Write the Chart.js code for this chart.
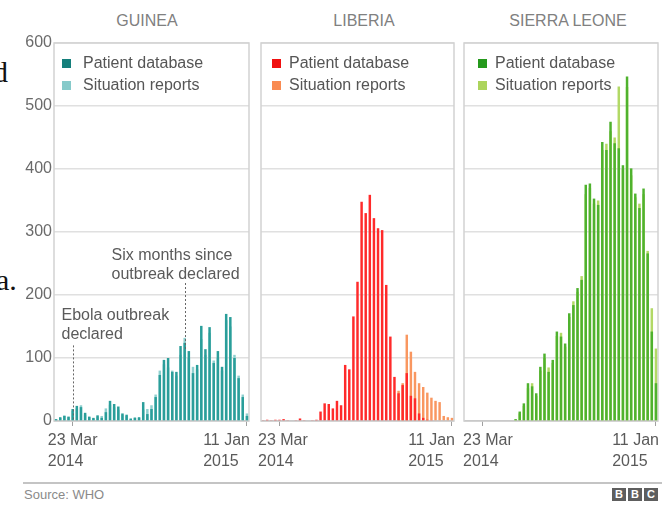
<!DOCTYPE html>
<html>
<head>
<meta charset="utf-8">
<script src="https://cdn.jsdelivr.net/npm/chart.js@4.4.1/dist/chart.umd.min.js"></script>
<style>
html,body{margin:0;padding:0;background:#fff;}
#wrap{position:relative;width:670px;height:505px;overflow:hidden;font-family:"Liberation Sans",Arial,sans-serif;}
canvas{position:absolute;top:0;}
.t{position:absolute;white-space:nowrap;}
.title{font-size:16px;line-height:20px;color:#808080;top:11px;transform:translateX(-50%);}
.serif{font-family:"Liberation Serif","DejaVu Serif",serif;font-size:30px;line-height:30px;color:#111;}
.lg{font-size:16px;line-height:18px;color:#555;}
.sq{position:absolute;width:9px;height:9px;}
.logo{position:absolute;top:488px;width:14px;height:13px;background:#5e5e5e;color:#fff;font:bold 11px "Liberation Sans",Arial,sans-serif;line-height:13px;text-align:center;}
</style>
</head>
<body>
<div id="wrap">
  <div class="t serif" style="left:-7px;top:57px">d</div>
  <div class="t serif" style="left:-4px;top:265px">a.</div>

  <div class="t title" style="left:147px">GUINEA</div>
  <div class="t title" style="left:364px">LIBERIA</div>
  <div class="t title" style="left:568px">SIERRA LEONE</div>

  <canvas id="cG" width="252" height="480" style="left:0px"></canvas>
  <canvas id="cL" width="205" height="480" style="left:252px"></canvas>
  <canvas id="cS" width="205" height="480" style="left:457px"></canvas>

  <div id="legends"></div>

  <div style="position:absolute;left:23px;top:482px;width:639px;height:2px;background:#c4c4c4"></div>
  <div class="t" style="left:24px;top:487px;font-size:13px;line-height:15px;color:#8a8a8a">Source: WHO</div>
  <div class="logo" style="left:612px">B</div>
  <div class="logo" style="left:628px">B</div>
  <div class="logo" style="left:644px">C</div>
</div>
<script>
// ---- categories: week starting dates ----
const weekLabels = [
  "2014-02-23","2014-03-02","2014-03-09","2014-03-16","2014-03-23","2014-03-30","2014-04-06","2014-04-13",
  "2014-04-20","2014-04-27","2014-05-04","2014-05-11","2014-05-18","2014-05-25","2014-06-01","2014-06-08",
  "2014-06-15","2014-06-22","2014-06-29","2014-07-06","2014-07-13","2014-07-20","2014-07-27","2014-08-03",
  "2014-08-10","2014-08-17","2014-08-24","2014-08-31","2014-09-07","2014-09-14","2014-09-21","2014-09-28",
  "2014-10-05","2014-10-12","2014-10-19","2014-10-26","2014-11-02","2014-11-09","2014-11-16","2014-11-23",
  "2014-11-30","2014-12-07","2014-12-14","2014-12-21","2014-12-28","2015-01-04","2015-01-11"
];
const xTickWeeks = ["2014-03-23", "2015-01-11"];
const xTickLabels = [["23 Mar", "2014"], ["11 Jan", "2015"]];
const yTickValues = [0, 100, 200, 300, 400, 500, 600];
const seriesNames = ["Patient database", "Situation reports"];

// ---- series values (weekly cases) ----
const guineaPatient = [3,6,8,7,19,24,22,13,7,5,9,5,14,32,27,23,12,10,4,5,6,30,11,19,38,73,97,100,78,78,119,124,111,76,89,151,114,149,92,111,86,170,165,100,68,38,8];
const guineaSituation = [2,5,9,6,16,20,25,10,6,4,7,8,20,26,22,18,10,8,3,6,5,18,19,25,42,80,90,85,80,72,105,132,100,86,82,130,105,140,96,100,80,160,150,105,72,42,12];

const liberiaPatient = [1,2,1,2,2,3,1,0,1,4,1,0,1,2,15,28,27,20,32,25,89,82,166,221,348,330,359,322,306,303,216,134,70,44,57,76,40,36,12,5,2,1,0,0,0,0,0];
const liberiaSituation = [null,null,null,null,null,null,null,null,null,null,null,null,null,null,null,null,null,null,null,null,null,null,null,null,null,null,null,null,null,null,null,null,null,48,60,137,110,78,60,54,45,37,32,30,8,6,5];

const sierraPatient = [0,0,0,0,0,0,0,0,0,0,0,0,3,15,28,60,55,44,86,107,78,97,142,134,123,171,184,211,224,375,377,353,343,443,430,475,441,433,406,547,401,361,338,369,266,142,60];
const sierraSituation = [0,0,0,0,0,0,0,0,0,0,0,0,2,12,24,52,60,40,80,100,85,92,135,140,118,165,190,205,230,360,370,345,350,430,440,460,450,531,400,530,390,355,345,360,270,179,115];

// ---- annotations (Guinea) ----
const annotations = [
  {week: "2014-03-23", lines: ["Ebola outbreak", "declared"], lineFrom: 120, lineTo: 0, textDx: -12, textY: [168, 137]},
  {week: "2014-09-28", lines: ["Six months since", "outbreak declared"], lineFrom: 219, lineTo: 113, textDx: -74, textY: [263, 232]}
];

const FONT = '"Liberation Sans", Arial, sans-serif';

const framePlugin = {
  id: 'frame',
  beforeDatasetsDraw(chart) {
    const a = chart.chartArea, ctx = chart.ctx;
    ctx.save();
    ctx.strokeStyle = '#d2d2d2';
    ctx.lineWidth = 1.5;
    ctx.strokeRect(a.left, a.top, a.right - a.left, a.bottom - a.top);
    ctx.restore();
  }
};

function xLabelPlugin(minLeft) {
  return {
    id: 'xlabels',
    afterDraw(chart) {
      const xs = chart.scales.x, a = chart.chartArea, ctx = chart.ctx;
      ctx.save();
      ctx.font = '16px ' + FONT;
      ctx.fillStyle = '#5a5a5a';
      ctx.textAlign = 'left';
      ctx.textBaseline = 'middle';
      xTickWeeks.forEach((wk, k) => {
        const px = xs.getPixelForValue(weekLabels.indexOf(wk));
        const lines = xTickLabels[k];
        const w = Math.max(...lines.map(l => ctx.measureText(l).width));
        let sx = px - w / 2;
        if (sx < a.left + minLeft) sx = a.left + minLeft;
        if (sx + w > a.right + 1) sx = a.right + 1 - w;
        lines.forEach((l, j) => ctx.fillText(l, sx, a.bottom + 20 + j * 21));
      });
      ctx.restore();
    }
  };
}

const annotationPlugin = {
  id: 'annot',
  afterDatasetsDraw(chart) {
    const xs = chart.scales.x, ys = chart.scales.y, ctx = chart.ctx;
    ctx.save();
    annotations.forEach(an => {
      const px = Math.round(xs.getPixelForValue(weekLabels.indexOf(an.week))) + 0.5;
      ctx.strokeStyle = '#666';
      ctx.lineWidth = 1;
      ctx.setLineDash([2, 2]);
      ctx.beginPath();
      ctx.moveTo(px, ys.getPixelForValue(an.lineFrom));
      ctx.lineTo(px, ys.getPixelForValue(an.lineTo));
      ctx.stroke();
      ctx.setLineDash([]);
      ctx.font = '16px ' + FONT;
      ctx.fillStyle = '#5a5a5a';
      ctx.textAlign = 'left';
      ctx.textBaseline = 'middle';
      an.lines.forEach((l, j) => ctx.fillText(l, px + an.textDx, ys.getPixelForValue(an.textY[j])));
    });
    ctx.restore();
  }
};

function makePanel(id, pd, sr, colors, opt) {
  const tickIdx = xTickWeeks.map(w => weekLabels.indexOf(w));
  const plugins = [framePlugin, xLabelPlugin(opt.minLeft)];
  if (opt.annot) plugins.push(annotationPlugin);
  return new Chart(document.getElementById(id), {
    type: 'bar',
    data: {
      labels: weekLabels,
      datasets: [
        {label: seriesNames[0], data: pd, backgroundColor: colors[0], grouped: false, categoryPercentage: 1, barPercentage: 0.6, order: 0},
        {label: seriesNames[1], data: sr, backgroundColor: colors[1], grouped: false, categoryPercentage: 1, barPercentage: 0.6, order: 1}
      ]
    },
    options: {
      responsive: false,
      animation: false,
      devicePixelRatio: 1,
      layout: {padding: {left: opt.padL, right: opt.padR, top: 43, bottom: 0}},
      plugins: {legend: {display: false}, tooltip: {enabled: false}},
      scales: {
        x: {
          type: 'category',
          offset: true,
          grid: {display: true, offset: false, drawOnChartArea: false, drawTicks: true, tickLength: 5, tickColor: '#a0a0a0', tickWidth: 1},
          border: {display: false},
          ticks: {display: false},
          afterBuildTicks: s => { s.ticks = s.ticks.filter(t => tickIdx.includes(t.value)); },
          afterFit: s => { s.height = 59; }
        },
        y: {
          min: yTickValues[0],
          max: yTickValues[yTickValues.length - 1],
          afterBuildTicks: s => { s.ticks = yTickValues.map(v => ({value: v})); },
          ticks: {display: opt.showY, color: '#6a6a6a', font: {family: FONT, size: 16}, padding: 2},
          grid: {color: c => (c.tick && c.tick.value === 0) ? '#b0b0b0' : '#e0e0e0', lineWidth: 1.5, drawTicks: false},
          border: {display: false},
          afterFit: s => { s.width = opt.yWidth; }
        }
      }
    },
    plugins: plugins
  });
}

const guineaColors = ['#2a9e9a', '#8fd0cf'];
const liberiaColors = ['#ff2a2a', '#f99760'];
const sierraColors = ['#4fb22e', '#b2d966'];

makePanel('cG', guineaPatient, guineaSituation, guineaColors, {padL: 0, padR: 3, yWidth: 54, showY: true, minLeft: -10, annot: true});
makePanel('cL', liberiaPatient, liberiaSituation, liberiaColors, {padL: 9, padR: 3, yWidth: 0, showY: false, minLeft: -3});
makePanel('cS', sierraPatient, sierraSituation, sierraColors, {padL: 7, padR: 4, yWidth: 0, showY: false, minLeft: -1});

// ---- legends (HTML text) ----
const legendSpecs = [
  {sq: 62, tx: 83, colors: ['#147f7b', '#86caca']},
  {sq: 272, tx: 289, colors: ['#f01010', '#f98b52']},
  {sq: 478, tx: 495, colors: ['#25991c', '#acd45c']}
];
const lg = document.getElementById('legends');
legendSpecs.forEach(spec => {
  seriesNames.forEach((name, j) => {
    const cy = 63 + j * 22;
    const s = document.createElement('div');
    s.className = 'sq';
    s.style.left = spec.sq + 'px';
    s.style.top = (cy - 4) + 'px';
    s.style.background = spec.colors[j];
    lg.appendChild(s);
    const t = document.createElement('div');
    t.className = 't lg';
    t.style.left = spec.tx + 'px';
    t.style.top = (cy - 9) + 'px';
    t.textContent = name;
    lg.appendChild(t);
  });
});
</script>
</body>
</html>
